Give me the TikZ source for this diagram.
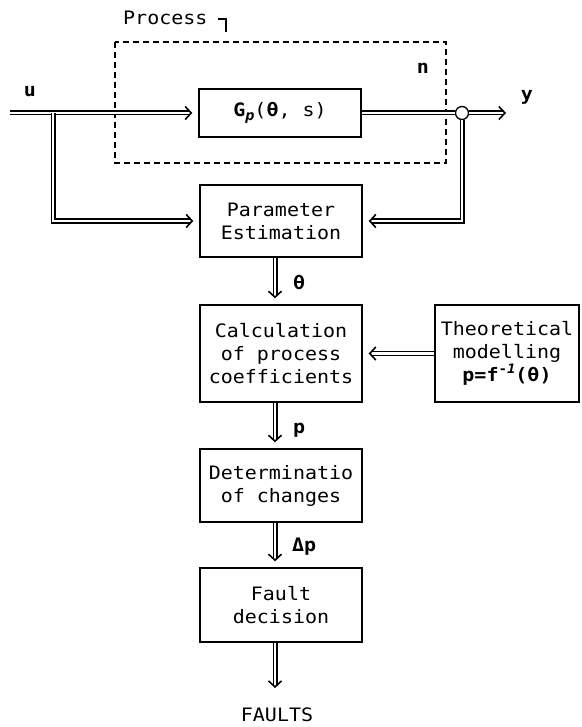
\documentclass[tikz,border=0pt]{standalone}
\usepackage{fontspec}
\setmonofont[FakeStretch=1.08]{DejaVu Sans Mono}
\usetikzlibrary{arrows.meta}
\tikzset{
    blk/.style={draw,line width=1.4pt,minimum width=162pt,align=center,inner sep=0pt,
        font=\ttfamily\fontsize{18.5}{23}\selectfont},
    sig/.style={double,double distance=2.6pt,line width=1.2pt},
    sigarr/.style={sig,-{Straight Barb[length=6pt,width=13pt,line width=1.6pt]},shorten >=6pt},
    lbl/.style={font=\ttfamily\bfseries\fontsize{18.5}{21}\selectfont,inner sep=0pt},
    txt/.style={font=\ttfamily\fontsize{18.5}{21}\selectfont,inner sep=0pt}
}
\begin{document}
\begin{tikzpicture}[x=1pt,y=-1pt]
    \useasboundingbox (0,0) rectangle (581,727);
    %process frame
    \draw[line width=1.4pt,dash pattern=on 6pt off 4pt] (115,42) rectangle (446,163);
    \node[txt,anchor=base west] (proc) at (123,25) {Process};
    \draw[line width=1.4pt] (218,19) -- (226,19) -- (226,32);
    %blocks
    \node[blk,minimum height=48pt] (gp) at (280,113)
        {{\bfseries G}\raisebox{-0.45ex}{\bfseries\itshape\fontsize{14}{14}\selectfont p}({\bfseries θ}, s)};
    \node[blk,minimum height=72pt] (pe) at (281,221) {Parameter\\Estimation};
    \node[blk,minimum height=97pt] (calc) at (281,353.5) {Calculation\\of process\\coefficients};
    \node[blk,minimum width=144pt,minimum height=97pt] (theo) at (507,353.5)
        {Theoretical\\modelling\\{\bfseries p=f\raisebox{0.8ex}{\fontsize{13}{13}\selectfont -\itshape 1}(θ)}};
    \node[blk,minimum height=73pt] (det) at (281,485.5) {Determinatio\\of changes};
    \node[blk,minimum height=74pt] (fd) at (281,605) {Fault\\decision};
    \node[txt] (faults) at (277,715) {FAULTS};
    \node[draw,circle,fill=white,line width=1.3pt,minimum size=13pt,inner sep=0pt] (sum) at (462,113) {};
    %signal labels
    \node[lbl] (u) at (30,92) {u};
    \node[lbl] (n) at (423,68) {n};
    \node[lbl] (y) at (527,97) {y};
    \node[lbl,anchor=west] (th) at (293,282) {θ};
    \node[lbl,anchor=west] (p) at (293,430) {p};
    \node[lbl,anchor=west] (dp) at (292,547) {Δp};
    %signal lines
    \coordinate (uin) at (10,113);
    \coordinate (br) at (53,113);
    \coordinate (yout) at (512,113);
    \coordinate (fend) at (275,694);
    \draw[sigarr] (uin) -- (gp);
    \draw[sigarr] (br) |- (pe.west);
    \draw[sig] (gp) -- (sum);
    \draw[sigarr] (sum) -- (yout);
    \draw[sigarr] (sum.south) |- (pe.east);
    \draw[sigarr] (theo) -- (calc);
    \draw[sigarr] ([xshift=-6pt]pe.south) -- ([xshift=-6pt]calc.north);
    \draw[sigarr] ([xshift=-6pt]calc.south) -- ([xshift=-6pt]det.north);
    \draw[sigarr] ([xshift=-6pt]det.south) -- ([xshift=-6pt]fd.north);
    \draw[sigarr] ([xshift=-6pt]fd.south) -- (fend);
\end{tikzpicture}
\end{document}
